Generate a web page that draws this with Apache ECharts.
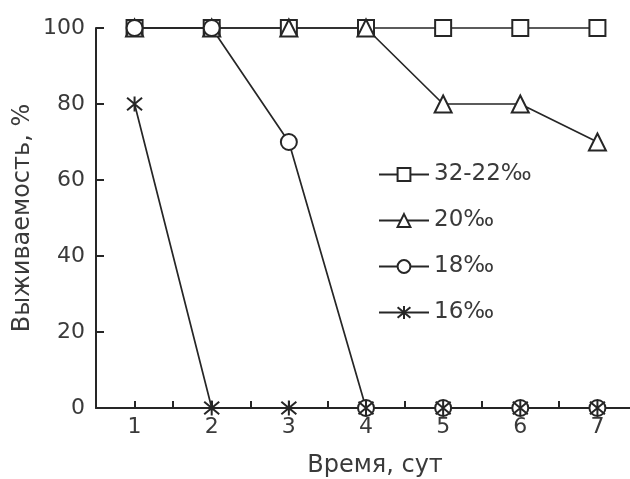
<!DOCTYPE html>
<html><head><meta charset="utf-8">
<script src="https://cdn.jsdelivr.net/npm/echarts@6/dist/echarts.min.js"></script>
<style>html,body{margin:0;padding:0;background:#fff}#c{width:630px;height:479px}</style>
</head><body><div id="c"></div>
<script>
const days = [1, 2, 3, 4, 5, 6, 7];
const seriesNames = ['32-22‰', '20‰', '18‰', '16‰'];
const s3222 = [100, 100, 100, 100, 100, 100, 100];
const s20 = [100, 100, 100, 100, 80, 80, 70];
const s18 = [100, 100, 70, 0, 0, 0, 0];
const s16 = [80, 0, 0, 0, 0, 0, 0];
const yTicks = [0, 20, 40, 60, 80, 100];

const ink = '#262626';
const txt = '#3a3a3a';
const font = 'DejaVu Sans';
const star = 'path://M0,0L10,10M10,0L0,10M5,-1L5,11';

function pairs(vals){ return days.map((d,i)=>[d, vals[i]]); }
function mk(name, vals, symbol, size, extra){
  return Object.assign({
    name, type:'line', data:pairs(vals), symbol, symbolSize:size, clip:false,
    lineStyle:{color:ink, width:1.7},
    itemStyle:{color:'#fff', borderColor:ink, borderWidth:2},
    emphasis:{disabled:true}
  }, extra||{});
}

const chart = echarts.init(document.getElementById('c'), null, {renderer:'canvas'});
chart.setOption({
  animation:false,
  backgroundColor:'#fff',
  grid:{left:96, right:-6, top:28, bottom:71, containLabel:false, outerBoundsMode:'none'},
  legend:{
    orient:'vertical', left:373, top:158, itemWidth:50, itemHeight:16, itemGap:23,
    textStyle:{fontFamily:font, fontSize:23, color:txt},
    data:seriesNames
  },
  xAxis:{
    type:'value', min:0.5, max:7.5, interval:0.5,
    name:'Время, сут', nameLocation:'middle', nameGap:46, nameMoveOverlap:false,
    nameTextStyle:{fontFamily:font, fontSize:24, color:txt, padding:[0,0,0,18]},
    axisLine:{lineStyle:{color:ink, width:2}},
    axisTick:{inside:true, length:7, lineStyle:{color:ink, width:2}},
    axisLabel:{fontFamily:font, fontSize:22, color:txt, margin:8,
      formatter:v=> (Number.isInteger(v) && days.indexOf(v)>=0) ? String(v) : ''},
    splitLine:{show:false}
  },
  yAxis:{
    type:'value', min:0, max:100, interval:20,
    name:'Выживаемость, %', nameLocation:'middle', nameGap:61, nameMoveOverlap:false,
    nameTextStyle:{fontFamily:font, fontSize:24, color:txt},
    axisLine:{show:true, lineStyle:{color:ink, width:2}},
    axisTick:{show:true, inside:true, length:8, lineStyle:{color:ink, width:2}},
    axisLabel:{fontFamily:font, fontSize:22, color:txt, margin:11,
      formatter:v=> yTicks.indexOf(v)>=0 ? String(v) : ''},
    splitLine:{show:false}
  },
  series:[
    mk(seriesNames[0], s3222, 'rect', 16),
    mk(seriesNames[1], s20, 'triangle', 17),
    mk(seriesNames[2], s18, 'circle', 16),
    mk(seriesNames[3], s16, star, 15, {itemStyle:{color:ink, borderColor:ink, borderWidth:2}})
  ]
});
</script></body></html>
